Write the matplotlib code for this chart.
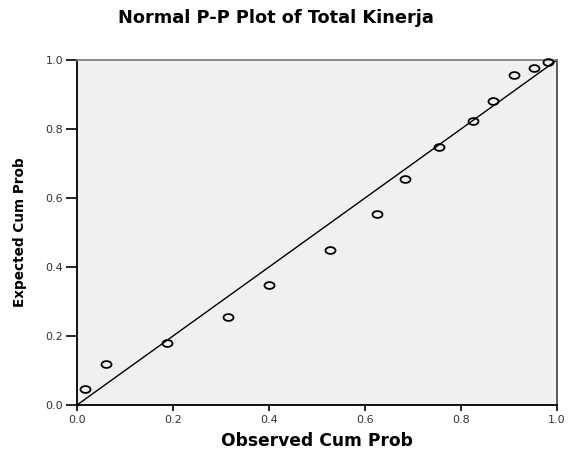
import numpy as np
import matplotlib
matplotlib.use('Agg')
import matplotlib.pyplot as plt
from matplotlib.path import Path

# Observed vs expected cumulative probabilities
observed = [0.017, 0.060, 0.187, 0.315, 0.400, 0.527, 0.626, 0.683,
            0.755, 0.824, 0.867, 0.910, 0.953, 0.981]
expected = [0.045, 0.119, 0.180, 0.256, 0.348, 0.449, 0.554, 0.655,
            0.747, 0.823, 0.882, 0.957, 0.976, 0.993]
ref_line = [0.0, 1.0]
ticks = [0.0, 0.2, 0.4, 0.6, 0.8, 1.0]
tick_labels = ['0.0', '0.2', '0.4', '0.6', '0.8', '1.0']

plt.rcParams['font.family'] = ['DejaVu Sans']

fig = plt.figure(figsize=(5.71, 4.53), dpi=100)
ax = fig.add_axes([77 / 571, 48 / 453, 480 / 571, 345 / 453])
ax.set_facecolor('#f0f0f0')

# flattened circle, like the stretched SPSS markers
t = np.linspace(0, 2 * np.pi, 60)
ellipse = Path(np.column_stack([np.cos(t), 0.68 * np.sin(t)]), closed=True)

ax.plot(ref_line, ref_line, color='black', lw=1.0, zorder=2)
ax.plot(observed, expected, linestyle='none', marker=ellipse, markersize=7.2,
        markerfacecolor='none', markeredgecolor='black', markeredgewidth=1.3,
        zorder=3, clip_on=False)

ax.set_xlim(0, 1)
ax.set_ylim(0, 1)
ax.set_xticks(ticks)
ax.set_xticklabels(tick_labels)
ax.set_yticks(ticks)
ax.set_yticklabels(tick_labels)
ax.tick_params(axis='x', length=4, width=1.2, pad=3, labelsize=8,
               colors='black', labelcolor='#333333')
ax.tick_params(axis='y', length=8, width=1.2, pad=2, labelsize=8,
               colors='black', labelcolor='#333333')

for side in ['left', 'bottom']:
    ax.spines[side].set_color('black')
    ax.spines[side].set_linewidth(1.3)
ax.spines['top'].set_color('#808080')
ax.spines['top'].set_linewidth(1.3)
ax.spines['right'].set_color('#404040')
ax.spines['right'].set_linewidth(1.2)

ax.set_xlabel('Observed Cum Prob', fontsize=12.3, fontweight='bold', labelpad=5)
ax.set_ylabel('Expected Cum Prob', fontsize=9.8, fontweight='bold', labelpad=13)
fig.text(276 / 571, 1 - 18 / 453, 'Normal P-P Plot of Total Kinerja',
         ha='center', va='center', fontsize=12.8, fontweight='bold')

fig.savefig('out.png', dpi=100)
